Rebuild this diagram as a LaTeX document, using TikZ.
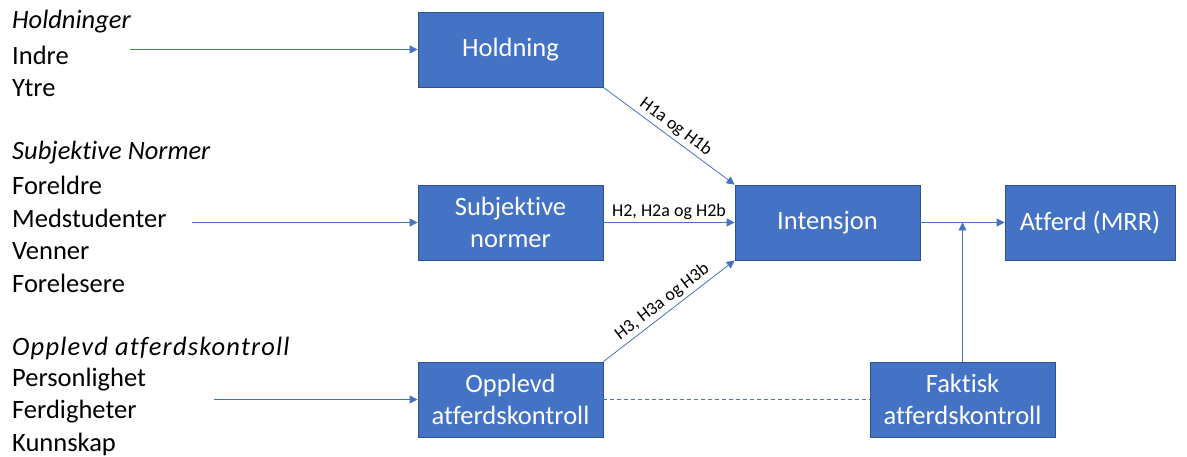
\documentclass[tikz,border=0pt]{standalone}
\usepackage{fontspec}
\setmainfont[Ligatures=NoCommon,RawFeature={-liga;-clig;-dlig}]{Carlito}
\usetikzlibrary{arrows.meta}
\definecolor{boxfill}{HTML}{4472C4}
\definecolor{boxline}{HTML}{2F528F}
\definecolor{arr}{HTML}{4472C4}
\begin{document}
\begin{tikzpicture}[x=1pt,y=1pt,
  box/.style={draw=boxline,line width=0.8pt,fill=boxfill,text=white,minimum width=185pt,minimum height=75pt,align=center,inner sep=1pt,font=\fontsize{26.5}{32}\selectfont},
  conn/.style={draw=arr,line width=0.8pt,-{Triangle[length=8pt,width=8pt]}},
  lbl/.style={font=\fontsize{18}{20}\selectfont,inner sep=3pt},
  ltxt/.style={anchor=west,font=\fontsize{26.5}{28}\selectfont,inner sep=0pt}]
\useasboundingbox (0,0) rectangle (1187,456);
% boxes
\node[box] (hold) at (510.5,406.5) {Holdning};
\node[box] (subj) at (510.5,233.5) {Subjektive\\normer};
\node[box] (oppl) at (510.5,56.5) {Opplevd\\atferdskontroll};
\node[box] (int) at (827.5,233.5) {Intensjon};
\node[box,minimum width=170pt] (atf) at (1090,233.5) {Atferd (MRR)};
\node[box] (fakt) at (962.5,56.5) {Faktisk\\atferdskontroll};
% left texts
\node[ltxt] (t1) at (12,434) {\itshape Holdninger};
\node[ltxt] (t2) at (12,401) {Indre};
\node[ltxt] (t3) at (12,368) {Ytre};
\node[ltxt] (t4) at (12,303) {\itshape Subjektive Normer};
\node[ltxt] (t5) at (12,271) {Foreldre};
\node[ltxt] (t6) at (12,238) {Medstudenter};
\node[ltxt] (t7) at (12,205) {Venner};
\node[ltxt] (t8) at (12,173) {Forelesere};
\node[ltxt] (t9) at (12,108) {\itshape\addfontfeature{LetterSpace=4.5}Opplevd atferdskontroll};
\node[ltxt] (t10) at (12,76) {Personlighet};
\node[ltxt] (t11) at (12,44) {Ferdigheter};
\node[ltxt] (t12) at (12,12) {Kunnskap};
% free ends
\coordinate (s1) at (130,406.5);
\coordinate (s2) at (192,233.5);
\coordinate (s3) at (214,56.5);
\draw[conn] (s1) -- (hold.west);
\draw[conn] (s2) -- (subj.west);
\draw[conn] (s3) -- (oppl.west);
% hypotheses
\draw[conn] (hold.south east) -- node[lbl,midway,above,sloped] {H1a og H1b} (int.north west);
\draw[conn] (subj.east) -- node[lbl,midway,above] {H2, H2a og H2b} (int.west);
\draw[conn] (oppl.north east) -- node[lbl,midway,above,sloped] {H3, H3a og H3b} (int.south west);
\draw[conn] (int.east) -- (atf.west);
\coordinate (jn) at (fakt.north |- int.east);
\draw[conn] (fakt.north) -- (jn);
\draw[draw=arr,line width=0.8pt,dash pattern=on 4pt off 3pt] (oppl.east) -- (fakt.west);
\end{tikzpicture}
\end{document}
